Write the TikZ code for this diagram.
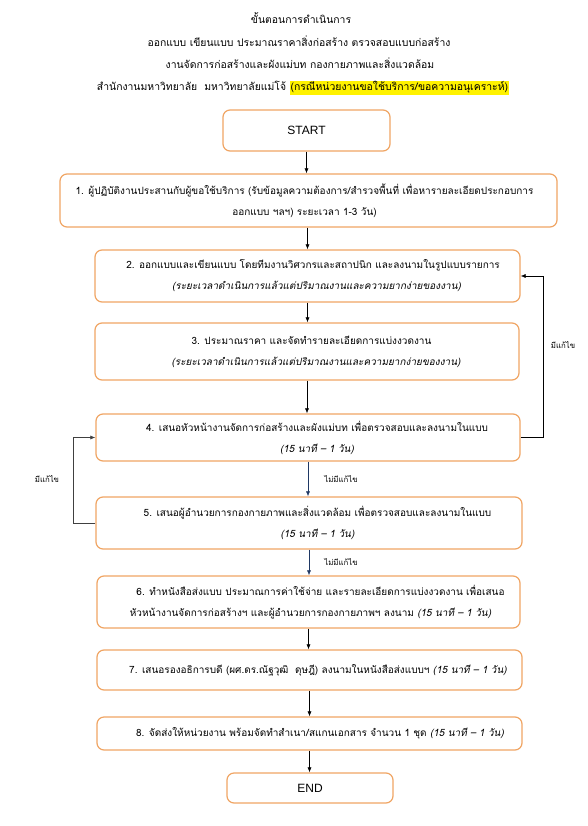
\documentclass[tikz,border=0pt]{standalone}
\usepackage{fontspec}
\usetikzlibrary{arrows.meta}
\newfontfamily\thaifont[Script=Thai,AutoFakeSlant=0.2]{Loma}
\newfontfamily\latinfont{Liberation Sans}
\definecolor{boxorange}{RGB}{240,165,100}
\definecolor{navyline}{RGB}{31,56,100}
\newcommand{\rs}[1]{\hspace*{#1pt}}
\tikzset{
  box/.style={draw=boxorange, line width=1.2pt, rounded corners=7pt, fill=white,
    align=center, inner sep=0pt, font=\thaifont\fontsize{10}{21}\selectfont},
  ttl/.style={anchor=base, inner sep=0pt, font=\thaifont\fontsize{10.4}{13}\selectfont},
  lbl/.style={inner sep=0pt, font=\thaifont\fontsize{7.8}{10}\selectfont},
  arr/.style={-{Latex[length=5pt,width=4pt]}, line width=0.6pt},
}
\begin{document}
\begin{tikzpicture}[x=1pt,y=-1pt]
\fill[white] (0,0) rectangle (587,826);
\useasboundingbox (0,0) rectangle (587,826);
% title
\node[ttl] (t1) at (301,24) {ขั้นตอนการดำเนินการ};
\node[ttl] (t2) at (299,47) {ออกแบบ เขียนแบบ ประมาณราคาสิ่งก่อสร้าง ตรวจสอบแบบก่อสร้าง};
\node[ttl] (t3) at (300,69) {งานจัดการก่อสร้างและผังแม่บท กองกายภาพและสิ่งแวดล้อม};
\node[ttl] (t4) at (303,91) {\setlength{\fboxsep}{1pt}สำนักงานมหาวิทยาลัย~~มหาวิทยาลัยแม่โจ้ \colorbox{yellow}{(กรณีหน่วยงานขอใช้บริการ/ขอความอนุเคราะห์)}};
% boxes
\node[box, minimum width=167pt, minimum height=41pt, font=\latinfont\fontsize{12}{14}\selectfont] (start) at (306.5,130.5) {START};
\node[box, minimum width=497pt, minimum height=53pt] (b1) at (308.5,200.5) {1. ผู้ปฏิบัติงานประสานกับผู้ขอใช้บริการ (รับข้อมูลความต้องการ/สำรวจพื้นที่ เพื่อหารายละเอียดประกอบการ\rs{8}\\ออกแบบ ฯลฯ) ระยะเวลา 1-3 วัน)\rs{8}};
\node[box, minimum width=425pt, minimum height=52pt] (b2) at (307.5,276) {\rs{11}2. ออกแบบและเขียนแบบ โดยทีมงานวิศวกรและสถาปนิก และลงนามในรูปแบบรายการ\\\rs{18}\textit{(ระยะเวลาดำเนินการแล้วแต่ปริมาณงานและความยากง่ายของงาน)}};
\node[box, minimum width=424pt, minimum height=57pt] (b3) at (307,351.5) {\rs{9}3. ประมาณราคา และจัดทำรายละเอียดการแบ่งงวดงาน\\\rs{18}\textit{(ระยะเวลาดำเนินการแล้วแต่ปริมาณงานและความยากง่ายของงาน)}};
\node[box, minimum width=424pt, minimum height=47pt] (b4) at (308,437.5) {\rs{18}4. เสนอหัวหน้างานจัดการก่อสร้างและผังแม่บท เพื่อตรวจสอบและลงนามในแบบ\\\rs{18}\textit{(15 นาที – 1 วัน)}};
\node[box, minimum width=426pt, minimum height=52pt] (b5) at (309,523) {\rs{17}5. เสนอผู้อำนวยการกองกายภาพและสิ่งแวดล้อม เพื่อตรวจสอบและลงนามในแบบ\\\rs{17}\textit{(15 นาที – 1 วัน)}};
\node[box, minimum width=423pt, minimum height=52pt] (b6) at (308.5,602) {\rs{24}6. ทำหนังสือส่งแบบ ประมาณการค่าใช้จ่าย และรายละเอียดการแบ่งงวดงาน เพื่อเสนอ\\\rs{4}หัวหน้างานจัดการก่อสร้างฯ และผู้อำนวยการกองกายภาพฯ ลงนาม \textit{(15 นาที – 1 วัน)}};
\node[box, minimum width=425pt, minimum height=40pt] (b7) at (309.5,670) {\rs{17}7. เสนอรองอธิการบดี (ผศ.ดร.ณัฐวุฒิ~~ดุษฎี) ลงนามในหนังสือส่งแบบฯ \textit{(15 นาที – 1 วัน)}};
\node[box, minimum width=425pt, minimum height=33pt] (b8) at (309.5,733.5) {\rs{21}8. จัดส่งให้หน่วยงาน พร้อมจัดทำสำเนา/สแกนเอกสาร จำนวน 1 ชุด \textit{(15 นาที – 1 วัน)}};
\node[box, minimum width=166pt, minimum height=30pt, font=\latinfont\fontsize{12}{14}\selectfont] (end) at (310,788) {END};
% arrows
\draw[arr] (start.south) -- (start.south |- b1.north);
\draw[arr] (b2.north |- b1.south) -- (b2.north);
\draw[arr] (b2.south) -- (b2.south |- b3.north);
\draw[arr] (b3.south) -- (b3.south |- b4.north);
\draw[arr, navyline] (b4.south) -- (b4.south |- b5.north);
\draw[arr, navyline] (b5.south) -- (b5.south |- b6.north);
\draw[arr] (b6.south) -- (b6.south |- b7.north);
\draw[arr] (b7.south) -- (b7.south |- b8.north);
\draw[arr] (b8.south) -- (b8.south |- end.north);
% loops
\draw[arr] (b4.east) -- ++(23,0) |- (b2.east);
\draw[arr, black!75] (b5.west) -- ++(-22,0) |- (b4.west);
% labels
\node[lbl] (l1) at (563,345) {มีแก้ไข};
\node[lbl] (l2) at (47,479) {มีแก้ไข};
\node[lbl] (l3) at (341,479) {ไม่มีแก้ไข};
\node[lbl] (l4) at (341,562) {ไม่มีแก้ไข};
\end{tikzpicture}
\end{document}
